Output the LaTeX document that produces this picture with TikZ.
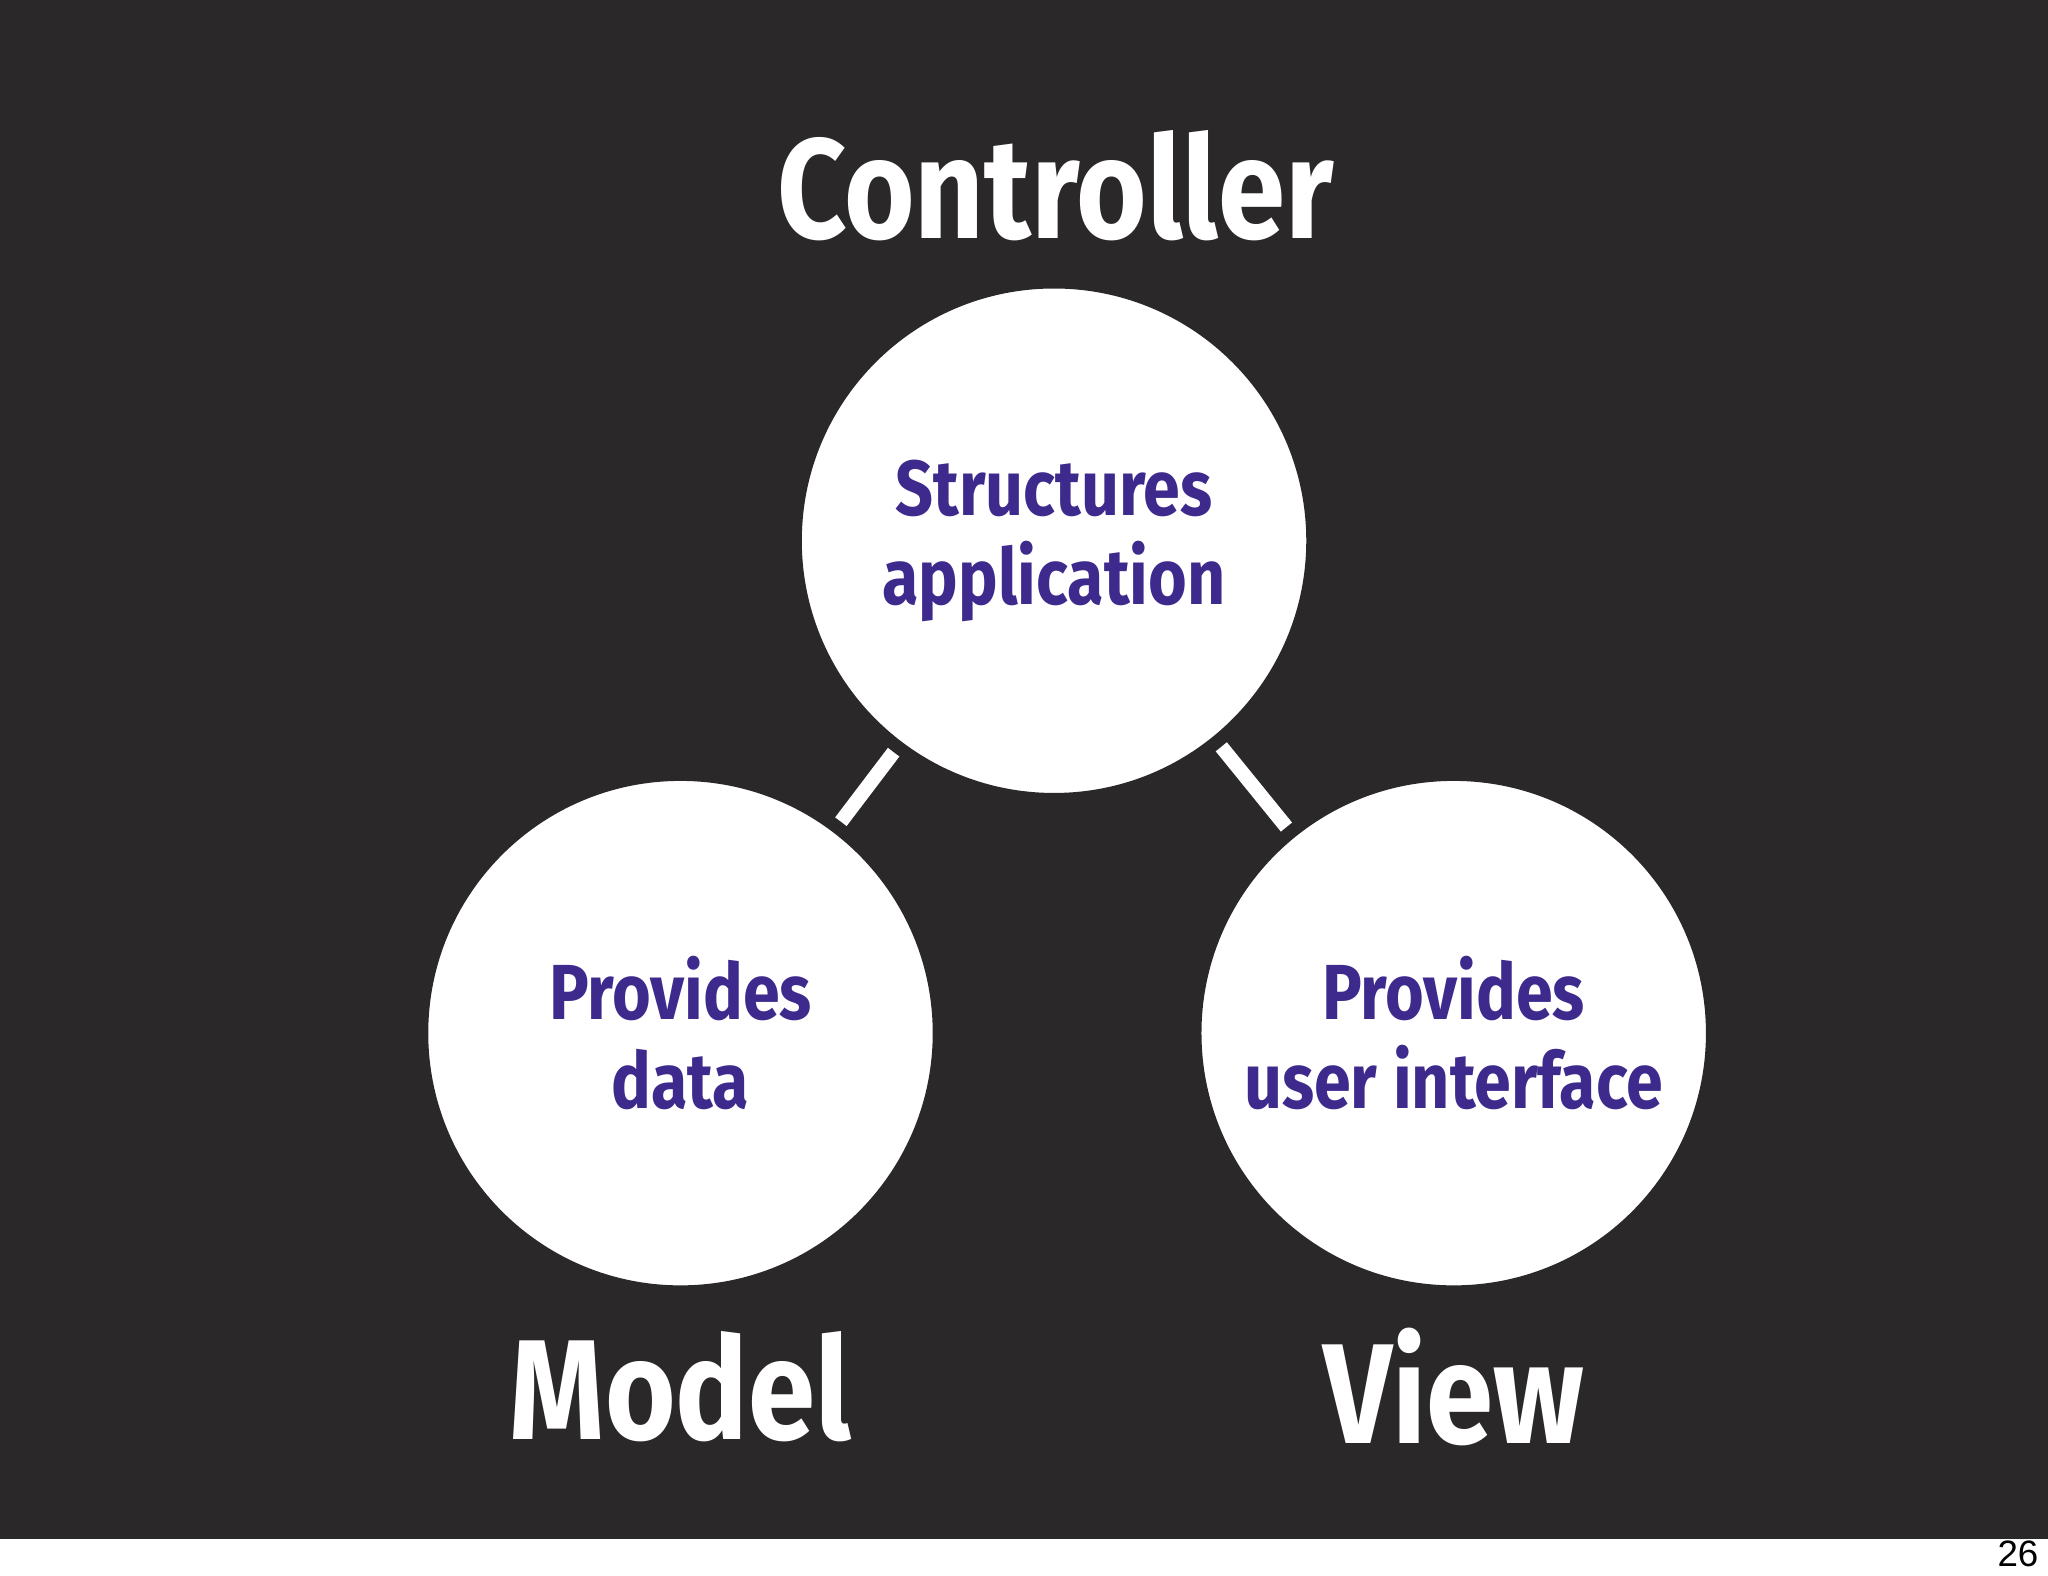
\documentclass[tikz,border=0pt]{standalone}
\usepackage{fontspec}
\setmainfont{Fira Sans}
\newfontfamily\condfont[FakeStretch=0.85]{Fira Sans}
\newfontfamily\pgfont{Liberation Sans}
\definecolor{bg}{HTML}{2B2829}
\definecolor{ink}{HTML}{3D2A8C}
\begin{document}
\begin{tikzpicture}[x=0.01cm,y=-0.01cm,
  bubble/.style={circle,fill=white,draw=bg,line width=0.1cm,minimum size=3.96cm,inner sep=0pt,align=center,text=ink,font=\condfont\bfseries\fontsize{17}{19.5}\selectfont},
  title/.style={text=white,font=\condfont\bfseries\fontsize{31}{36}\selectfont},
  link/.style={white,line width=0.11cm}]
\useasboundingbox (0,0) rectangle (1568,1206);
\fill[white] (0,0) rectangle (1568,1206);
\fill[bg] (0,0) rectangle (1568,1178);
\coordinate (cc) at (807,414);
\coordinate (mc) at (521,791);
\coordinate (vc) at (1113,791);
\draw[link] (cc) -- (mc);
\draw[link] (cc) -- (vc);
\node[bubble] (ctrl) at (cc) {Structures\\application};
\node[bubble] (model) at (mc) {Provides\\data};
\node[bubble] (view) at (vc) {Provides\\user interface};
\node[title] (tc) at (808,142) {Controller};
\node[title] (tm) at (521,1062) {Model};
\node[title] (tv) at (1113,1062) {View};
\node[font=\pgfont\fontsize{8}{10}\selectfont,text=black] (pg) at (1545,1190) {26};
\end{tikzpicture}
\end{document}
